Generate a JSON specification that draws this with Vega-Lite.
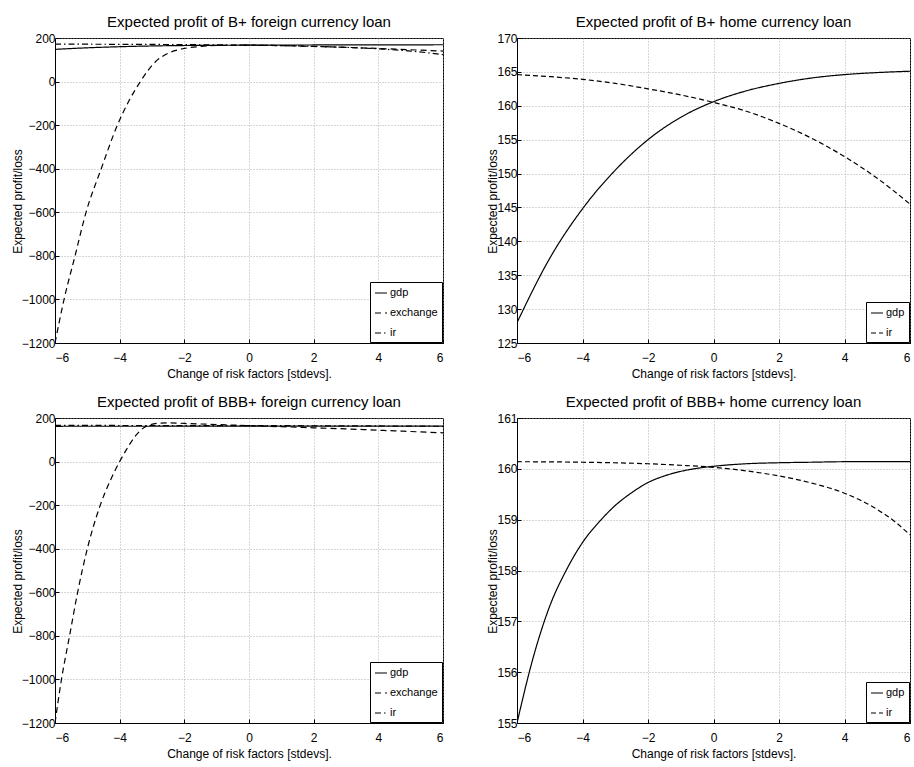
{
  "$schema": "https://vega.github.io/schema/vega-lite/v6.json",
  "padding": {"left": 10, "top": 14, "right": 0, "bottom": 5},
  "background": "white",
  "columns": 2,
  "bounds": "flush",
  "spacing": {"row": 75, "column": 74},
  "resolve": {"scale": {"strokeDash": "independent", "x": "independent", "y": "independent"}, "legend": {"strokeDash": "independent"}},
  "datasets": {
    "tl": [
      {"s":"gdp","x":-6,"y":148},{"s":"gdp","x":-5,"y":155},{"s":"gdp","x":-4,"y":160},{"s":"gdp","x":-3,"y":163.5},{"s":"gdp","x":-2,"y":165.5},{"s":"gdp","x":-1,"y":166.5},{"s":"gdp","x":0,"y":167},{"s":"gdp","x":1,"y":167.5},{"s":"gdp","x":2,"y":168},{"s":"gdp","x":3,"y":168.3},{"s":"gdp","x":4,"y":168.5},{"s":"gdp","x":5,"y":168.7},{"s":"gdp","x":6,"y":169},
      {"s":"exchange","x":-6,"y":-1200},{"s":"exchange","x":-5.72,"y":-1000},{"s":"exchange","x":-5.38,"y":-800},{"s":"exchange","x":-5.04,"y":-600},{"s":"exchange","x":-4.57,"y":-400},{"s":"exchange","x":-4.07,"y":-200},{"s":"exchange","x":-3.7,"y":-85},{"s":"exchange","x":-3.36,"y":0},{"s":"exchange","x":-2.9,"y":90},{"s":"exchange","x":-2.5,"y":130},{"s":"exchange","x":-2,"y":152},{"s":"exchange","x":-1.5,"y":161},{"s":"exchange","x":-1,"y":166},{"s":"exchange","x":0,"y":167},{"s":"exchange","x":1,"y":165},{"s":"exchange","x":2,"y":161},{"s":"exchange","x":3,"y":157},{"s":"exchange","x":4,"y":152},{"s":"exchange","x":5,"y":146},{"s":"exchange","x":6,"y":140},
      {"s":"ir","x":-6,"y":172},{"s":"ir","x":-5,"y":171.5},{"s":"ir","x":-4,"y":171},{"s":"ir","x":-3,"y":170.5},{"s":"ir","x":-2,"y":169.5},{"s":"ir","x":-1,"y":168.5},{"s":"ir","x":0,"y":167},{"s":"ir","x":1,"y":165},{"s":"ir","x":2,"y":162},{"s":"ir","x":3,"y":157},{"s":"ir","x":4,"y":150},{"s":"ir","x":5,"y":140},{"s":"ir","x":6,"y":124}
    ],
    "tr": [
      {"s":"gdp","x":-6,"y":128},{"s":"gdp","x":-5,"y":137.5},{"s":"gdp","x":-4,"y":144.8},{"s":"gdp","x":-3,"y":150.5},{"s":"gdp","x":-2,"y":155},{"s":"gdp","x":-1,"y":158.3},{"s":"gdp","x":0,"y":160.6},{"s":"gdp","x":1,"y":162.2},{"s":"gdp","x":2,"y":163.3},{"s":"gdp","x":3,"y":164.1},{"s":"gdp","x":4,"y":164.6},{"s":"gdp","x":5,"y":164.9},{"s":"gdp","x":6,"y":165.1},
      {"s":"ir","x":-6,"y":164.6},{"s":"ir","x":-5,"y":164.3},{"s":"ir","x":-4,"y":163.9},{"s":"ir","x":-3,"y":163.3},{"s":"ir","x":-2,"y":162.5},{"s":"ir","x":-1,"y":161.6},{"s":"ir","x":0,"y":160.5},{"s":"ir","x":1,"y":159.2},{"s":"ir","x":2,"y":157.4},{"s":"ir","x":3,"y":155.2},{"s":"ir","x":4,"y":152.5},{"s":"ir","x":5,"y":149.3},{"s":"ir","x":6,"y":145.5}
    ],
    "bl": [
      {"s":"gdp","x":-6,"y":162},{"s":"gdp","x":0,"y":162.5},{"s":"gdp","x":6,"y":163},
      {"s":"exchange","x":-6,"y":-1200},{"s":"exchange","x":-5.8,"y":-1000},{"s":"exchange","x":-5.55,"y":-800},{"s":"exchange","x":-5.3,"y":-600},{"s":"exchange","x":-5,"y":-400},{"s":"exchange","x":-4.6,"y":-200},{"s":"exchange","x":-4.3,"y":-90},{"s":"exchange","x":-4,"y":0},{"s":"exchange","x":-3.75,"y":65},{"s":"exchange","x":-3.5,"y":120},{"s":"exchange","x":-3.2,"y":160},{"s":"exchange","x":-2.8,"y":176},{"s":"exchange","x":-2.5,"y":178},{"s":"exchange","x":-2,"y":175},{"s":"exchange","x":-1,"y":170},{"s":"exchange","x":0,"y":165},{"s":"exchange","x":1,"y":160},{"s":"exchange","x":2,"y":155},{"s":"exchange","x":3,"y":150},{"s":"exchange","x":4,"y":144},{"s":"exchange","x":5,"y":138},{"s":"exchange","x":6,"y":132},
      {"s":"ir","x":-6,"y":166},{"s":"ir","x":-3,"y":165.5},{"s":"ir","x":0,"y":165},{"s":"ir","x":3,"y":164},{"s":"ir","x":6,"y":162}
    ],
    "br": [
      {"s":"gdp","x":-6,"y":155.0},{"s":"gdp","x":-5.5,"y":156.3},{"s":"gdp","x":-5,"y":157.3},{"s":"gdp","x":-4.5,"y":158.0},{"s":"gdp","x":-4,"y":158.55},{"s":"gdp","x":-3.5,"y":158.95},{"s":"gdp","x":-3,"y":159.28},{"s":"gdp","x":-2.5,"y":159.53},{"s":"gdp","x":-2,"y":159.73},{"s":"gdp","x":-1.5,"y":159.86},{"s":"gdp","x":-1,"y":159.95},{"s":"gdp","x":-0.5,"y":160.01},{"s":"gdp","x":0,"y":160.05},{"s":"gdp","x":1,"y":160.1},{"s":"gdp","x":2,"y":160.12},{"s":"gdp","x":3,"y":160.13},{"s":"gdp","x":4,"y":160.14},{"s":"gdp","x":6,"y":160.14},
      {"s":"ir","x":-6,"y":160.14},{"s":"ir","x":-4,"y":160.13},{"s":"ir","x":-2,"y":160.1},{"s":"ir","x":-1,"y":160.07},{"s":"ir","x":0,"y":160.03},{"s":"ir","x":1,"y":159.96},{"s":"ir","x":2,"y":159.86},{"s":"ir","x":3,"y":159.72},{"s":"ir","x":4,"y":159.52},{"s":"ir","x":5,"y":159.2},{"s":"ir","x":5.5,"y":158.98},{"s":"ir","x":6,"y":158.7}
    ]
  },
  "concat": [
    {
      "title": "Expected profit of B+ foreign currency loan",
      "width": 388, "height": 305,
      "data": {"name": "tl"},
      "mark": {"type": "line", "interpolate": "monotone", "color": "black", "strokeWidth": 1.2, "clip": true},
      "encoding": {
        "x": {"field": "x", "type": "quantitative", "scale": {"domain": [-6, 6], "nice": false}, "axis": {"values": [-6,-4,-2,0,2,4,6], "title": "Change of risk factors [stdevs]."}},
        "y": {"field": "y", "type": "quantitative", "scale": {"domain": [-1200, 200], "nice": false, "zero": false}, "axis": {"values": [-1200,-1000,-800,-600,-400,-200,0,200], "format": "d", "title": "Expected profit/loss"}},
        "strokeDash": {"field": "s", "type": "nominal", "scale": {"domain": ["gdp","exchange","ir"], "range": [[1,0],[6,4],[6,3,1.5,3]]}, "legend": {"title": null, "orient": "bottom-right"}}
      }
    },
    {
      "title": "Expected profit of B+ home currency loan",
      "width": 393, "height": 305,
      "data": {"name": "tr"},
      "mark": {"type": "line", "interpolate": "monotone", "color": "black", "strokeWidth": 1.2, "clip": true},
      "encoding": {
        "x": {"field": "x", "type": "quantitative", "scale": {"domain": [-6, 6], "nice": false}, "axis": {"values": [-6,-4,-2,0,2,4,6], "title": "Change of risk factors [stdevs]."}},
        "y": {"field": "y", "type": "quantitative", "scale": {"domain": [125, 170], "nice": false, "zero": false}, "axis": {"values": [125,130,135,140,145,150,155,160,165,170], "format": "d", "title": "Expected profit/loss"}},
        "strokeDash": {"field": "s", "type": "nominal", "scale": {"domain": ["gdp","ir"], "range": [[1,0],[5,3]]}, "legend": {"title": null, "orient": "bottom-right"}}
      }
    },
    {
      "title": "Expected profit of BBB+ foreign currency loan",
      "width": 388, "height": 305,
      "data": {"name": "bl"},
      "mark": {"type": "line", "interpolate": "monotone", "color": "black", "strokeWidth": 1.2, "clip": true},
      "encoding": {
        "x": {"field": "x", "type": "quantitative", "scale": {"domain": [-6, 6], "nice": false}, "axis": {"values": [-6,-4,-2,0,2,4,6], "title": "Change of risk factors [stdevs]."}},
        "y": {"field": "y", "type": "quantitative", "scale": {"domain": [-1200, 200], "nice": false, "zero": false}, "axis": {"values": [-1200,-1000,-800,-600,-400,-200,0,200], "format": "d", "title": "Expected profit/loss"}},
        "strokeDash": {"field": "s", "type": "nominal", "scale": {"domain": ["gdp","exchange","ir"], "range": [[1,0],[6,4],[6,3,1.5,3]]}, "legend": {"title": null, "orient": "bottom-right"}}
      }
    },
    {
      "title": "Expected profit of BBB+ home currency loan",
      "width": 393, "height": 305,
      "data": {"name": "br"},
      "mark": {"type": "line", "interpolate": "monotone", "color": "black", "strokeWidth": 1.2, "clip": true},
      "encoding": {
        "x": {"field": "x", "type": "quantitative", "scale": {"domain": [-6, 6], "nice": false}, "axis": {"values": [-6,-4,-2,0,2,4,6], "title": "Change of risk factors [stdevs]."}},
        "y": {"field": "y", "type": "quantitative", "scale": {"domain": [155, 161], "nice": false, "zero": false}, "axis": {"values": [155,156,157,158,159,160,161], "format": "d", "title": "Expected profit/loss"}},
        "strokeDash": {"field": "s", "type": "nominal", "scale": {"domain": ["gdp","ir"], "range": [[1,0],[5,3]]}, "legend": {"title": null, "orient": "bottom-right"}}
      }
    }
  ],
  "config": {
    "font": "Liberation Sans, Arial, sans-serif",
    "view": {"stroke": "black", "strokeWidth": 1},
    "title": {"fontSize": 15, "fontWeight": "normal", "color": "black", "offset": 2},
    "axis": {
      "grid": true, "gridDash": [1, 2], "gridColor": "#999", "gridWidth": 0.8,
      "domain": true, "domainColor": "black",
      "tickColor": "black", "tickSize": -4,
      "labelFontSize": 12, "labelColor": "black", "labelPadding": 4,
      "titleFontSize": 12, "titleFontWeight": "normal", "titleColor": "black", "titlePadding": 3
    },
    "axisX": {"labelPadding": 13, "titlePadding": 5},
    "axisY": {"titlePadding": -3, "titleY": 163},
    "legend": {
      "strokeColor": "black", "fillColor": "white", "padding": 4, "offset": 1,
      "symbolType": "stroke", "symbolSize": 144, "symbolStrokeColor": "black", "symbolStrokeWidth": 1.2,
      "labelFontSize": 11, "labelColor": "black", "labelOffset": 2, "rowPadding": 8
    }
  }
}
